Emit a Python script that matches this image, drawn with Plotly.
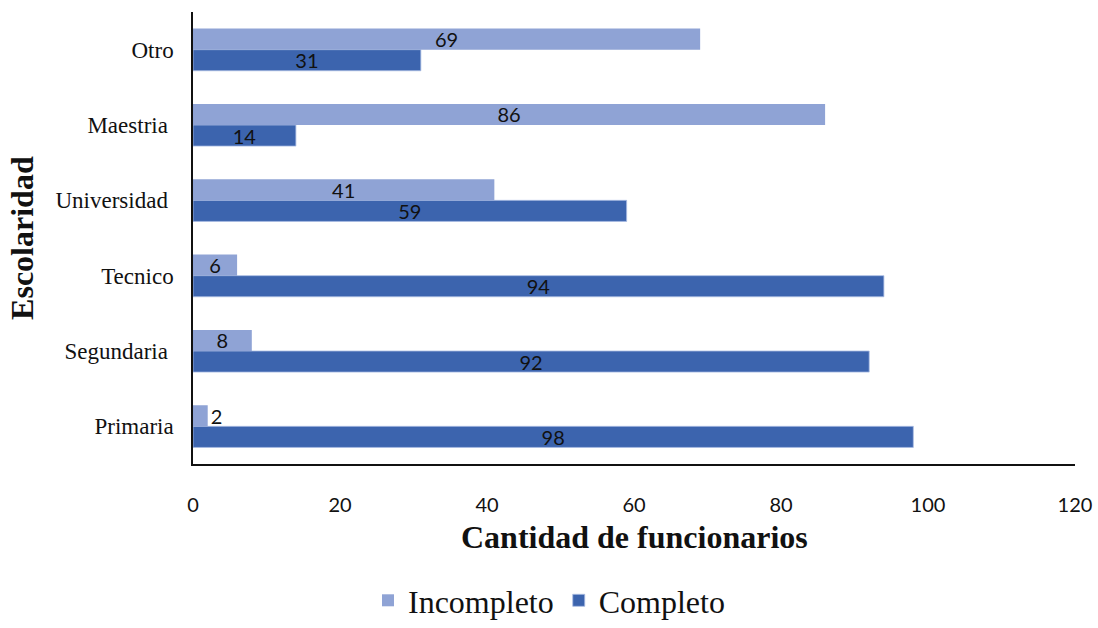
import plotly.graph_objects as go

categorias = ["Primaria", "Segundaria", "Tecnico", "Universidad", "Maestria", "Otro"]
etiquetas = ["Primaria", "Segundaria\u00a0", "Tecnico", "Universidad\u00a0", "Maestria\u00a0", "Otro"]
incompleto = [2, 8, 6, 41, 86, 69]
completo = [98, 92, 94, 59, 14, 31]

color_inc = "#8FA3D5"
color_comp = "#3C64AE"
serif = "Liberation Serif, Times New Roman, serif"
sans = "Lato, Carlito, Calibri, sans-serif"


def text_positions(values):
    return ["outside" if v < 4 else "inside" for v in values]


fig = go.Figure()
fig.add_trace(go.Bar(
    y=categorias, x=completo, name="Completo", orientation="h",
    marker=dict(color=color_comp, line=dict(color="#A9BCE3", width=0.8)),
    text=[str(v) for v in completo], textposition=text_positions(completo),
    insidetextanchor="middle", textangle=0, constraintext="none", cliponaxis=False,
    textfont=dict(family=sans, size=20, color="#111111"),
    legendrank=2,
))
fig.add_trace(go.Bar(
    y=categorias, x=incompleto, name="Incompleto", orientation="h",
    marker=dict(color=color_inc, line=dict(width=0)),
    text=[str(v) for v in incompleto], textposition=text_positions(incompleto),
    insidetextanchor="middle", textangle=0, constraintext="none", cliponaxis=False,
    textfont=dict(family=sans, size=20, color="#111111"),
    legendrank=1,
))

fig.update_layout(
    width=1098, height=628,
    margin=dict(l=193, r=23, t=12, b=164),
    paper_bgcolor="white", plot_bgcolor="white",
    barmode="group", bargap=0.44, bargroupgap=0,
    uniformtext=dict(mode=False),
    xaxis=dict(
        range=[0, 120], tickvals=[0, 20, 40, 60, 80, 100, 120],
        showgrid=False, zeroline=False, automargin=False,
        showline=True, linecolor="#111111", linewidth=1.5,
        ticks="", ticklabelstandoff=22,
        tickfont=dict(family=sans, size=20, color="#111111"),
    ),
    yaxis=dict(
        tickvals=categorias, ticktext=etiquetas,
        showgrid=False, zeroline=False, automargin=False,
        showline=True, linecolor="#111111", linewidth=1.5,
        ticks="", ticklabelstandoff=13,
        tickfont=dict(family=serif, size=23, color="#111111"),
    ),
    showlegend=True,
    legend=dict(
        orientation="h", xref="container", yref="container",
        x=0.5, xanchor="center", y=0.0, yanchor="bottom",
        font=dict(family=serif, size=32, color="#111111"),
        itemwidth=30, traceorder="normal",
    ),
    annotations=[
        dict(text="<b>Cantidad de funcionarios</b>", xref="paper", yref="paper",
             x=0.5, y=-0.162, xanchor="center", yanchor="middle", showarrow=False,
             font=dict(family=serif, size=32, color="#111111")),
        dict(text="<b>Escolaridad</b>", xref="paper", yref="paper",
             x=-0.194, y=0.5, xanchor="center", yanchor="middle", showarrow=False,
             textangle=-90,
             font=dict(family=serif, size=32, color="#111111")),
    ],
)

fig.write_html("out.html")
